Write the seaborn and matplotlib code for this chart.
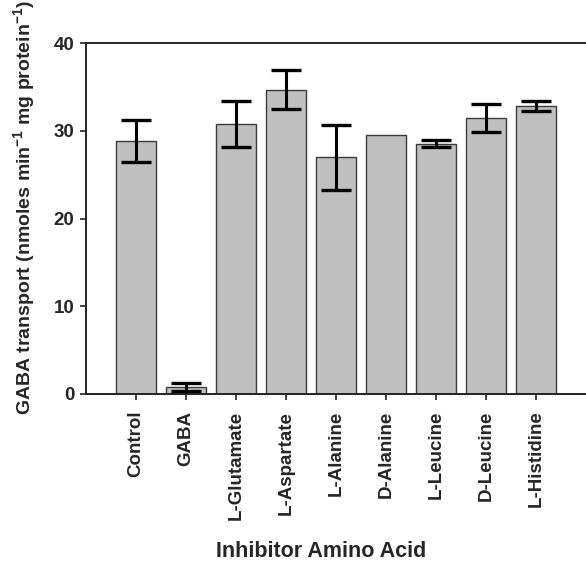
import matplotlib
matplotlib.use("Agg")
import matplotlib.pyplot as plt
import seaborn as sns
import numpy as np
import pandas as pd

categories = ["Control", "GABA", "L-Glutamate", "L-Aspartate", "L-Alanine",
              "D-Alanine", "L-Leucine", "D-Leucine", "L-Histidine"]
values = [28.8, 0.8, 30.8, 34.7, 27.0, 29.5, 28.5, 31.5, 32.8]
errors = [2.4, 0.45, 2.6, 2.2, 3.7, np.nan, 0.4, 1.6, 0.55]
yticks = [0, 10, 20, 30, 40]

sns.set_theme(style="ticks")
plt.rcParams["font.family"] = ["Liberation Sans", "DejaVu Sans"]
plt.rcParams["font.weight"] = "bold"
plt.rcParams["mathtext.fontset"] = "custom"
plt.rcParams["mathtext.rm"] = "Liberation Sans:bold"
plt.rcParams["mathtext.bf"] = "Liberation Sans:bold"
plt.rcParams["mathtext.default"] = "bf"

df = pd.DataFrame({"cat": categories, "val": values, "err": errors})

fig = plt.figure(figsize=(5.86, 5.62), dpi=100)
ax = fig.add_axes([86/586, 1 - 394/562, 500/586, 351/562])

sns.barplot(data=df, x="cat", y="val", color="#c0c0c0", saturation=1,
            edgecolor="#3a3a3a", linewidth=1.0, width=0.81, errorbar=None, ax=ax)
ax.errorbar(np.arange(len(categories)), df["val"], yerr=df["err"], fmt="none",
            ecolor="black", elinewidth=2.2, capsize=11, capthick=2.4)

ax.set_xlim(-1, 9)
ax.set_ylim(0, 40)
ax.set_yticks(yticks)
ax.set_yticklabels([str(t) for t in yticks], fontsize=13.5, fontweight="bold")
ax.set_xticks(range(len(categories)))
ax.set_xticklabels(categories, rotation=90, fontsize=13.5, fontweight="bold")
ax.tick_params(axis="y", length=4.5, width=1.2, pad=4, color="#222222")
ax.tick_params(axis="x", length=4, width=1.2, pad=8, color="#222222")

for s in ["left", "top", "bottom"]:
    ax.spines[s].set_visible(True)
    ax.spines[s].set_linewidth(1.4)
    ax.spines[s].set_color("#222222")
ax.spines["right"].set_visible(False)

ax.set_xlabel("Inhibitor Amino Acid", fontsize=15.5, fontweight="bold")
ax.set_ylabel(r"GABA transport (nmoles min$^{-1}$ mg protein$^{-1}$)",
              fontsize=14, fontweight="bold")
ax.xaxis.set_label_coords((321 - 86) / 500, (394 - 541) / 351)
ax.yaxis.set_label_coords((37 - 86) / 500, (394 - 208) / 351)

fig.savefig("out.png", dpi=100)
